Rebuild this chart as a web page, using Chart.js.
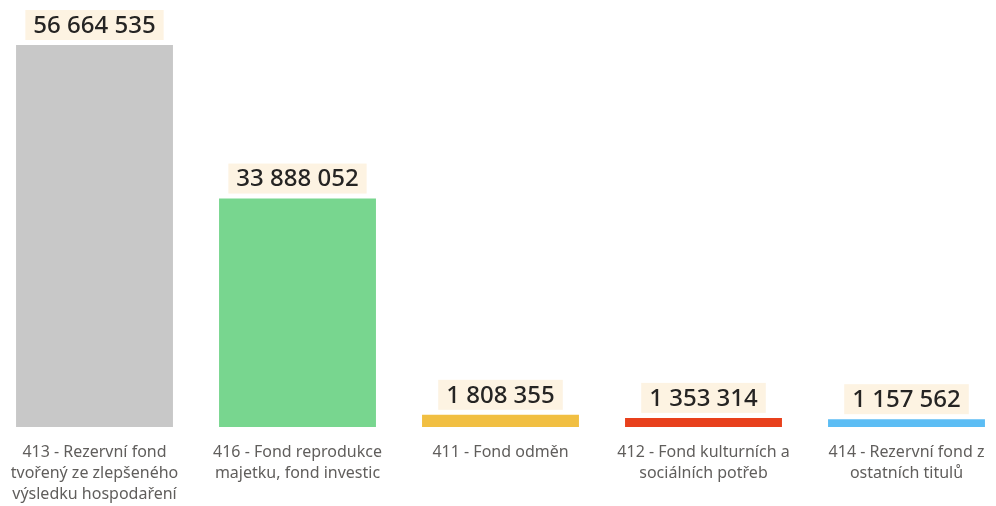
<!DOCTYPE html>
<html lang="en">
<head>
    <meta charset="UTF-8">
    <title>Fondy</title>
    <style>
        html, body {
            margin: 0;
            padding: 0;
            background: #fff;
            overflow: hidden;
        }
        #wrap {
            position: absolute;
            left: -7px;
            top: 0;
            width: 1015px;
            height: 506px;
        }
    </style>
</head>
<body>
    <div id="wrap">
        <canvas id="fundChart" width="1015" height="506"></canvas>
    </div>

    <script src="https://cdn.jsdelivr.net/npm/chart.js"></script>
    <script>
        // category labels (already split into lines like in the picture)
        const categories = [
            ['413 - Rezervní fond', 'tvořený ze zlepšeného', 'výsledku hospodaření'],
            ['416 - Fond reprodukce', 'majetku, fond investic'],
            ['411 - Fond odměn'],
            ['412 - Fond kulturních a', 'sociálních potřeb'],
            ['414 - Rezervní fond z', 'ostatních titulů']
        ];
        const values = [56664535, 33888052, 1808355, 1353314, 1157562];
        const barColors = ['#c8c8c8', '#78d68f', '#f1bf42', '#e8401c', '#5cbdf4'];

        // numbers like "56 664 535"
        function fmt(v) {
            return String(v).replace(/\B(?=(\d{3})+(?!\d))/g, ' ');
        }

        const valueBoxes = {
            id: 'valueBoxes',
            afterDatasetsDraw(chart) {
                const ctx = chart.ctx;
                const meta = chart.getDatasetMeta(0);
                ctx.save();
                ctx.font = '500 24px "Noto Sans", "Open Sans", sans-serif';
                ctx.textAlign = 'center';
                ctx.textBaseline = 'middle';
                meta.data.forEach((bar, i) => {
                    const txt = fmt(values[i]);
                    const w = ctx.measureText(txt).width + 16;
                    const h = 30;
                    const top = bar.y - 5 - h;
                    ctx.fillStyle = '#fdf3e2';
                    ctx.fillRect(bar.x - w / 2, top, w, h);
                    ctx.fillStyle = '#252423';
                    ctx.fillText(txt, bar.x, top + h / 2 + 1);
                });
                ctx.restore();
            }
        };

        const ctx = document.getElementById('fundChart').getContext('2d');
        const fundChart = new Chart(ctx, {
            type: 'bar',
            data: {
                labels: categories,
                datasets: [{
                    data: values,
                    backgroundColor: barColors,
                    borderWidth: 0,
                    categoryPercentage: 1,
                    barPercentage: 0.773
                }]
            },
            options: {
                responsive: false,
                animation: false,
                layout: {
                    padding: { top: 45, left: 0, right: 0, bottom: 0 }
                },
                plugins: {
                    legend: { display: false },
                    tooltip: { enabled: false }
                },
                scales: {
                    x: {
                        grid: { display: false },
                        border: { display: false },
                        ticks: {
                            color: '#605e5c',
                            padding: 7,
                            maxRotation: 0,
                            autoSkip: false,
                            font: { family: '"Noto Sans", "Open Sans", sans-serif', size: 16, lineHeight: 1.3 }
                        },
                        afterFit: (scale) => { scale.height = 79; }
                    },
                    y: {
                        display: false,
                        min: 0,
                        max: 56664535
                    }
                }
            },
            plugins: [valueBoxes]
        });
    </script>
</body>
</html>
